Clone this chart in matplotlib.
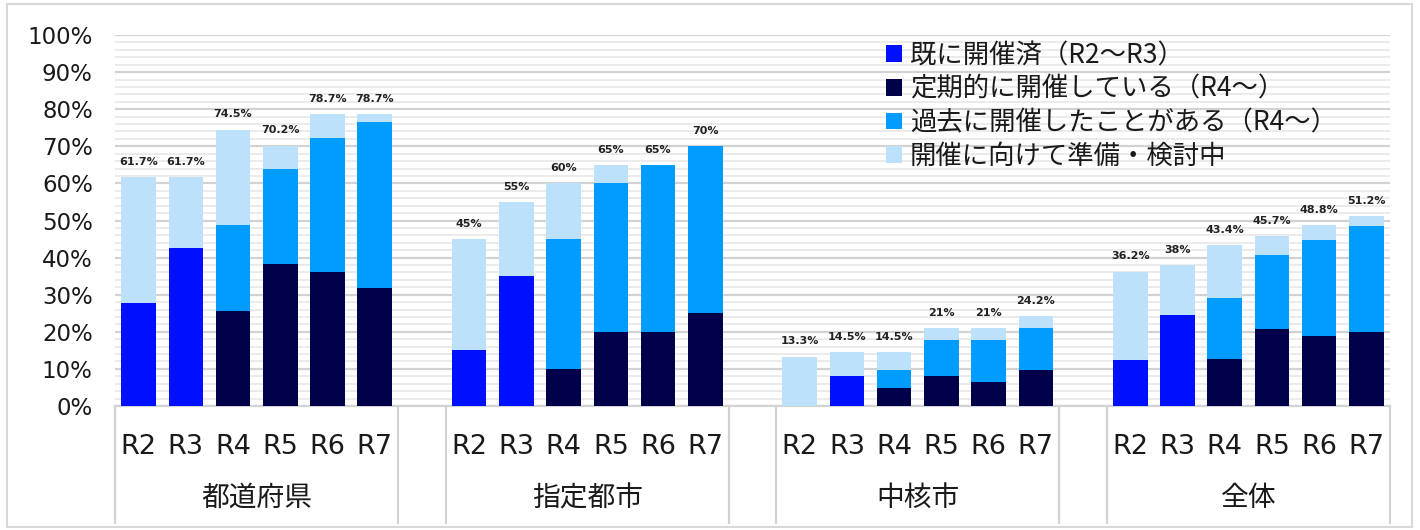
import matplotlib
matplotlib.use("Agg")
import matplotlib.pyplot as plt
import matplotlib.transforms as mtransforms
from matplotlib.patches import Rectangle
import numpy as np

plt.rcParams['font.family'] = ['Noto Sans CJK JP', 'DejaVu Sans']

# ---------------- data ----------------
groups = ['都道府県', '指定都市', '中核市', '全体']
years = ['R2', 'R3', 'R4', 'R5', 'R6', 'R7']
series_names = ['既に開催済（R2～R3）', '定期的に開催している（R4～）',
                '過去に開催したことがある（R4～）', '開催に向けて準備・検討中']

already = [[27.7, 42.6, 0, 0, 0, 0],
           [15, 35, 0, 0, 0, 0],
           [0, 8.1, 0, 0, 0, 0],
           [12.4, 24.5, 0, 0, 0, 0]]
regular = [[0, 0, 25.5, 38.3, 36.2, 31.9],
           [0, 0, 10, 20, 20, 25],
           [0, 0, 4.8, 8.1, 6.5, 9.7],
           [0, 0, 12.8, 20.7, 19.0, 19.9]]
past = [[0, 0, 23.4, 25.5, 36.1, 44.7],
        [0, 0, 35, 40, 45, 45],
        [0, 0, 4.9, 9.6, 11.2, 11.3],
        [0, 0, 16.4, 20.1, 25.7, 28.7]]
preparing = [[34.0, 19.1, 25.6, 6.4, 6.4, 2.1],
             [30, 20, 15, 5, 0, 0],
             [13.3, 6.4, 4.8, 3.3, 3.3, 3.2],
             [23.8, 13.5, 14.2, 4.9, 4.1, 2.6]]
totals = [[61.7, 61.7, 74.5, 70.2, 78.7, 78.7],
          [45, 55, 60, 65, 65, 70],
          [13.3, 14.5, 14.5, 21, 21, 24.2],
          [36.2, 38, 43.4, 45.7, 48.8, 51.2]]

colors = ['#0010FF', '#00004A', '#009CFF', '#BDE1FB']

# ---------------- figure ----------------
W, H = 1420, 530
fig = plt.figure(figsize=(W / 100, H / 100), dpi=100)
ax = fig.add_axes([115 / W, (H - 406) / H, (1390 - 115) / W, (406 - 35) / H])

n_per = len(years)
slot = n_per + 1
xs = []
for g in range(len(groups)):
    xs.extend([g * slot + i for i in range(n_per)])
xs = np.array(xs)

def flat(a):
    return np.array([v for row in a for v in row]) / 100.0

layers = [flat(already), flat(regular), flat(past), flat(preparing)]
bottom = np.zeros(len(xs))
handles = []
for vals, c, name in zip(layers, colors, series_names):
    b = ax.bar(xs, vals, width=0.73, bottom=bottom, color=c, label=name,
               zorder=3, linewidth=0)
    handles.append(b)
    bottom = bottom + vals

tot = flat(totals)
for x, t, raw in zip(xs, tot, [v for row in totals for v in row]):
    lab = (f"{raw:g}%")
    ax.annotate(lab, (x, t), xytext=(0, 11), textcoords='offset points',
                ha='center', va='center', fontsize=8, fontweight='bold',
                family='DejaVu Sans', color='#222222', zorder=4)

ax.set_xlim(-0.5, len(groups) * slot - 1 - 0.5)
ax.set_ylim(0, 1)
ax.set_yticks(np.arange(0, 1.01, 0.1))
ax.set_yticklabels([f"{int(round(v * 100))}%" for v in np.arange(0, 1.01, 0.1)],
                   fontsize=16.5, family='DejaVu Sans', color='#1a1a1a')
ax.set_yticks(np.arange(0, 1.001, 0.02), minor=True)
ax.grid(axis='y', which='major', color='#d2d2d2', linewidth=1.6, zorder=0)
ax.grid(axis='y', which='minor', color='#e9e9e9', linewidth=1.3, zorder=0)
ax.tick_params(axis='y', which='both', length=0, pad=16)

ax.set_xticks(xs)
ax.set_xticklabels(years * len(groups), fontsize=19.5, family='DejaVu Sans',
                   color='#1a1a1a')
ax.tick_params(axis='x', length=0, pad=20)

for s in ['left', 'right', 'top']:
    ax.spines[s].set_visible(False)
ax.spines['bottom'].set_color('#d2d2d2')
ax.spines['bottom'].set_linewidth(1.6)

trans = mtransforms.blended_transform_factory(ax.transData, ax.transAxes)
depth = -(523 - 406) / (406 - 35)
for g in range(len(groups)):
    x0 = g * slot - 0.5
    x1 = g * slot + n_per - 0.5
    for xb in (x0, x1):
        ax.plot([xb, xb], [0, depth], transform=trans, color='#d2d2d2',
                linewidth=1.6, clip_on=False, zorder=1)
    ax.text((x0 + x1) / 2, -(498 - 406) / (406 - 35), groups[g], transform=trans,
            ha='center', va='center', fontsize=20, color='#1a1a1a')

leg = ax.legend(handles=handles, loc='upper left',
                bbox_to_anchor=(886 / W, (H - 42) / H),
                bbox_transform=fig.transFigure, frameon=False, fontsize=19,
                handlelength=0.6, handleheight=0.6, handletextpad=0.3,
                labelspacing=0.25, borderpad=0, borderaxespad=0)
for t in leg.get_texts():
    t.set_color('#1a1a1a')

fig.patches.append(Rectangle((7 / W, 3 / H), (1412 - 7) / W, (523 - 0) / H,
                             transform=fig.transFigure, fill=False,
                             edgecolor='#d9d9d9', linewidth=1.5))

fig.savefig('out.png', dpi=100)
